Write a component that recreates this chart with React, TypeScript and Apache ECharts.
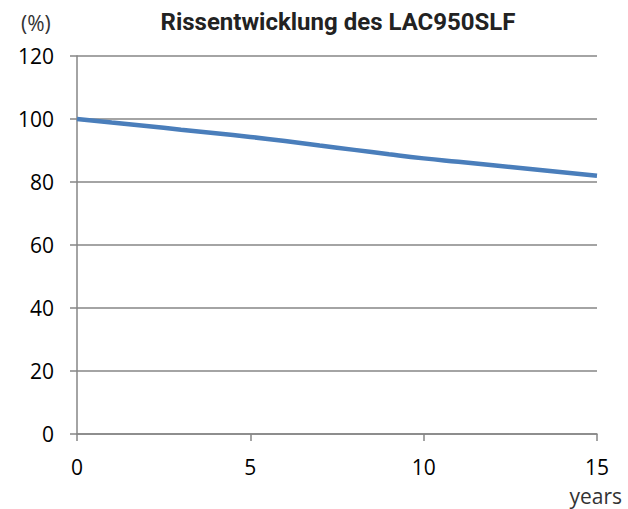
import React, { useEffect, useRef } from "react";
import * as echarts from "echarts";

const years = [0, 1, 2, 3, 4, 5, 6, 7, 8, 9, 10, 11, 12, 13, 14, 15];
const crackValues = [100, 98.9, 97.8, 96.6, 95.5, 94.3, 93.0, 91.6, 90.2, 88.8, 87.5, 86.4, 85.3, 84.2, 83.1, 82.0];
const titleText = "Rissentwicklung des LAC950SLF";
const yUnit = "(%)";
const xUnit = "years";

export default function App() {
  const ref = useRef<HTMLDivElement>(null);
  useEffect(() => {
    if (!ref.current) return;
    const chart = echarts.init(ref.current, null, { renderer: "svg" });
    const axisColor = "#868686";
    const labelFont = "'Open Sans', sans-serif";
    chart.setOption({
      animation: false,
      backgroundColor: "#ffffff",
      grid: { left: 77, right: 31, top: 56, bottom: 75, containLabel: false },
      xAxis: {
        type: "value",
        min: 0,
        max: 15,
        interval: 5,
        axisLine: { show: true, lineStyle: { color: axisColor, width: 1.5 } },
        axisTick: { show: true, inside: false, length: 7, lineStyle: { color: axisColor, width: 1.5 } },
        axisLabel: { color: "#000", fontSize: 21, fontFamily: labelFont, margin: 22 },
        splitLine: { show: false },
      },
      yAxis: {
        type: "value",
        min: 0,
        max: 120,
        interval: 20,
        axisLine: { show: true, lineStyle: { color: axisColor, width: 1.5 } },
        axisTick: { show: true, inside: false, length: 7, lineStyle: { color: axisColor, width: 1.5 } },
        axisLabel: { color: "#000", fontSize: 21, fontFamily: labelFont, margin: 23 },
        splitLine: { show: true, lineStyle: { color: axisColor, width: 1.5 } },
      },
      graphic: [
        {
          type: "text",
          x: 338,
          y: 22,
          style: {
            text: titleText,
            fontSize: 24,
            fontWeight: "bold",
            fontFamily: "Roboto, sans-serif",
            fill: "#222",
            align: "center",
            verticalAlign: "middle",
          },
        },
        {
          type: "text",
          x: 21,
          y: 23,
          style: { text: yUnit, fontSize: 21, fontFamily: labelFont, fill: "#333", verticalAlign: "middle" },
        },
        {
          type: "text",
          x: 622,
          y: 496,
          style: { text: xUnit, fontSize: 21, fontFamily: labelFont, fill: "#333", align: "right", verticalAlign: "middle" },
        },
      ],
      series: [
        {
          type: "line",
          data: years.map((y, i) => [y, crackValues[i]]),
          showSymbol: false,
          smooth: true,
          lineStyle: { color: "#4a7ebb", width: 4.5 },
        },
      ],
    });
    return () => chart.dispose();
  }, []);
  return <div ref={ref} style={{ position: "absolute", left: 0, top: 0, width: 628, height: 509 }} />;
}
